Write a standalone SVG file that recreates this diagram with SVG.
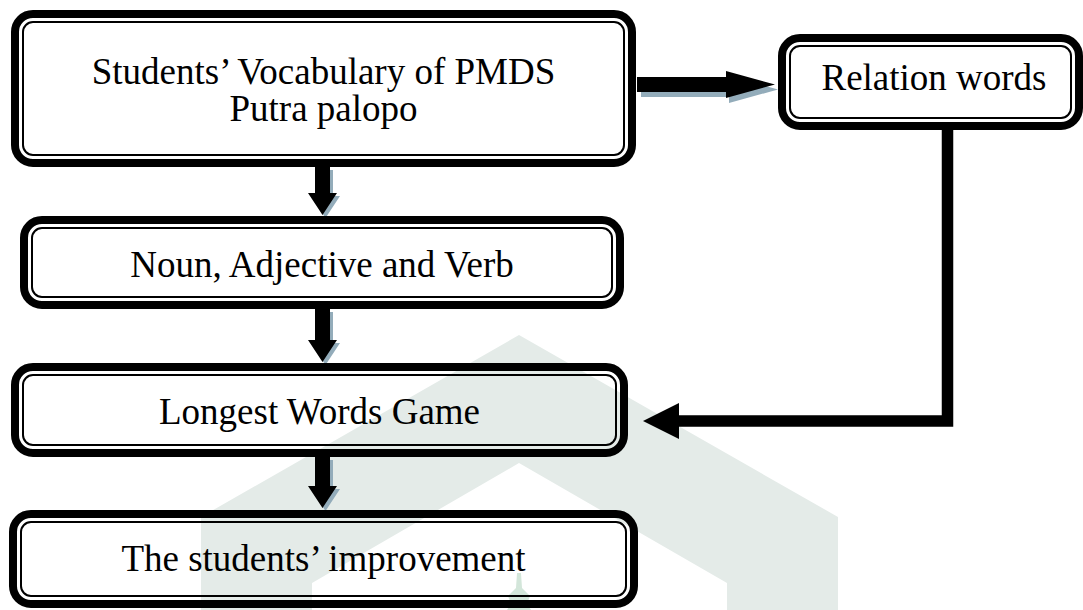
<svg xmlns="http://www.w3.org/2000/svg" width="1083" height="610" viewBox="0 0 1083 610">
<style>
.wm{fill:#e4ebe8}
.mn{fill:#d3e6da}
.outer{fill:none;stroke:#000;stroke-width:8}
.inner{fill:none;stroke:#000;stroke-width:2}
.lbl{font-family:"Liberation Serif","Times New Roman",serif;font-size:37px;fill:#000;text-anchor:middle}
.arr{fill:#000}
.shd{fill:#93acba}
.conn{fill:none;stroke:#000;stroke-width:11.5;stroke-linejoin:miter}
</style>
<rect width="1083" height="610" fill="#fff"/>
<g id="watermark">
<path class="wm" fill-rule="evenodd" d="M519,335 L838,517 L838,610 L201,610 L201,517 Z M519,463 L312,583 L312,610 L727,610 L727,583 Z"/>
<path class="mn" d="M517,573 L521,573 L522,588 L530,596 L527,604 L531,610 L507,610 L511,604 L508,596 L516,588 Z"/>
</g>
<g id="connectors">
<polygon class="shd" points="318,170 333,170 333,196 340,196 325.5,218 311,196 318,196"/>
<polygon class="arr" points="315,167 330,167 330,193 337,193 322.5,215 308,193 315,193"/>
<polygon class="shd" points="318,312 333,312 333,343 340,343 325.5,365 311,343 318,343"/>
<polygon class="arr" points="315,309 330,309 330,340 337,340 322.5,362 308,340 315,340"/>
<polygon class="shd" points="318,460 333,460 333,489 340,489 325.5,511 311,489 318,489"/>
<polygon class="arr" points="315,457 330,457 330,486 337,486 322.5,508 308,486 315,486"/>
<polygon class="shd" points="641,82 729,82 729,76 778,89.5 729,103 729,97 641,97"/>
<polygon class="arr" points="637,77 726,77 726,71 775,84.5 726,98 726,92 637,92"/>
<path class="conn" d="M947.5,130 V421 H676"/>
<polygon class="arr" points="679,403 679,439 643,421"/>
</g>
<g id="node-vocabulary">
<rect class="outer" x="15" y="14" width="617" height="149" rx="18"/>
<rect class="inner" x="23" y="22" width="601" height="133" rx="10"/>
<text class="lbl" x="323.5" y="84">Students’ Vocabulary of PMDS</text>
<text class="lbl" x="323.5" y="121">Putra palopo</text>
</g>
<g id="node-relation">
<rect class="outer" x="782" y="38" width="297" height="88" rx="18"/>
<rect class="inner" x="790" y="46" width="281" height="72" rx="10"/>
<text class="lbl" x="934" y="90">Relation words</text>
</g>
<g id="node-noun">
<rect class="outer" x="24" y="220" width="596" height="85" rx="18"/>
<rect class="inner" x="32" y="228" width="580" height="69" rx="10"/>
<text class="lbl" x="322" y="277">Noun, Adjective and Verb</text>
</g>
<g id="node-game">
<rect class="outer" x="15" y="367" width="609" height="86" rx="18"/>
<rect class="inner" x="23" y="375" width="593" height="70" rx="10"/>
<text class="lbl" x="319.5" y="424">Longest Words Game</text>
</g>
<g id="node-improvement">
<rect class="outer" x="13" y="514" width="621" height="90" rx="18"/>
<rect class="inner" x="21" y="522" width="605" height="74" rx="10"/>
<text class="lbl" x="323.5" y="571">The students’ improvement</text>
</g>
</svg>
